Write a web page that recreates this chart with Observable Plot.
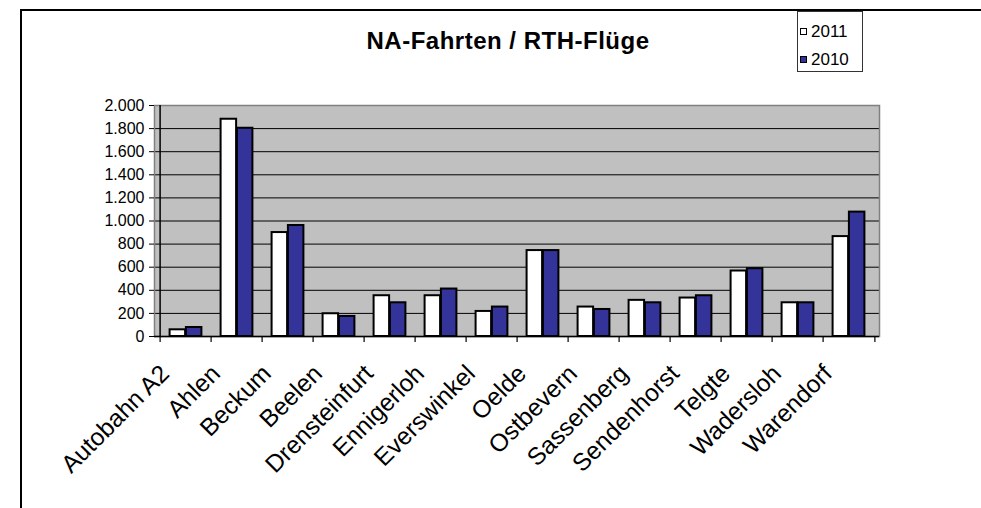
<!DOCTYPE html>
<html>
<head>
<meta charset="utf-8">
<script src="https://cdn.jsdelivr.net/npm/d3@7"></script>
<script src="https://cdn.jsdelivr.net/npm/@observablehq/plot@0.6"></script>
<style>
  body { margin: 0; background: #fff; font-family: "Liberation Sans", Arial, sans-serif; }
  #wrap { position: relative; width: 981px; height: 508px; overflow: hidden; background: #fff; }
  #border { position: absolute; left: 20px; top: 9px; width: 1100px; height: 700px;
            border-top: 2px solid #000; border-left: 2px solid #000; pointer-events: none; }
  #title { position: absolute; left: 508px; top: 29px; transform: translateX(-50%);
           font-weight: bold; font-size: 24px; letter-spacing: 0.5px; line-height: 24px; white-space: nowrap; color: #000; }
  #legend { position: absolute; left: 797px; top: 11px; width: 66px; height: 61px;
            border: 1px solid #333; background: #fff; box-sizing: border-box; }
  .item { position: absolute; left: 2px; font-size: 17px; line-height: 17px; white-space: nowrap; }
  .sw { display: inline-block; width: 5px; height: 5px; border: 1.5px solid #000; margin-right: 4px; vertical-align: 2px; }
  #chart { position: absolute; left: 0; top: 0; }
</style>
</head>
<body>
<div id="wrap">
  <div id="chart"></div>
  <div id="title"></div>
  <div id="legend"></div>
  <div id="border"></div>
</div>
<script>
const title = "NA-Fahrten / RTH-Flüge";
const categories = ["Autobahn A2", "Ahlen", "Beckum", "Beelen", "Drensteinfurt", "Ennigerloh",
  "Everswinkel", "Oelde", "Ostbevern", "Sassenberg", "Sendenhorst", "Telgte", "Wadersloh", "Warendorf"];
const series = ["2011", "2010"];
const values2011 = [58, 1881, 900, 197, 353, 353, 217, 744, 255, 313, 333, 567, 292, 865];
const values2010 = [78, 1803, 961, 174, 292, 411, 255, 744, 234, 292, 353, 587, 292, 1077];
const seriesColors = ["#ffffff", "#333399"];
const yTicks = [0, 200, 400, 600, 800, 1000, 1200, 1400, 1600, 1800, 2000];

const data = categories.flatMap((c, i) => [
  {cat: c, series: series[0], value: values2011[i]},
  {cat: c, series: series[1], value: values2010[i]}
]);

const W = 981, H = 508, mL = 154, mR = 102, mT = 105, mB = 172;
const bw = (W - mL - mR) / categories.length;
const barW = 16.3;
const fmt = d3.formatLocale({decimal: ",", thousands: ".", grouping: [3], currency: ["", " €"]}).format(",");

const chart = Plot.plot({
  width: W, height: H,
  marginLeft: mL, marginRight: mR, marginTop: mT, marginBottom: mB,
  style: {fontFamily: '"Liberation Sans", Arial, sans-serif', fontSize: "15px", color: "#000", background: "transparent", overflow: "visible"},
  x: {type: "band", domain: categories, padding: 0, axis: null},
  y: {domain: [0, 2000], axis: null},
  marks: [
    Plot.frame({fill: "#c0c0c0", stroke: "none"}),
    Plot.ruleY(yTicks.slice(1, -1), {stroke: "#000", strokeWidth: 1}),
    Plot.frame({stroke: "#808080", strokeWidth: 1.5}),
    Plot.barY(data.filter(d => d.series === series[0]), {x: "cat", y: "value", fill: seriesColors[0], stroke: "#000", strokeWidth: 2, insetLeft: bw / 2 - barW, insetRight: bw / 2}),
    Plot.barY(data.filter(d => d.series === series[1]), {x: "cat", y: "value", fill: seriesColors[1], stroke: "#000", strokeWidth: 2, insetLeft: bw / 2, insetRight: bw / 2 - barW}),
    Plot.ruleY([0], {stroke: "#000", strokeWidth: 1.5}),
    Plot.ruleX([categories[0]], {dx: -bw / 2, stroke: "#000", strokeWidth: 1.5}),
    Plot.ruleX(categories, {y1: 0, y2: 0, insetBottom: -6, dx: -bw / 2, stroke: "#000", strokeWidth: 1.2}),
    Plot.ruleX([categories[categories.length - 1]], {y1: 0, y2: 0, insetBottom: -6, dx: bw / 2, stroke: "#000", strokeWidth: 1.2}),
    Plot.axisY({ticks: yTicks, tickSize: 5, tickPadding: 5, tickFormat: fmt, fontSize: 16, label: null}),
    Plot.axisX({tickSize: 0, tickPadding: 0, tickRotate: -45, dx: -21, dy: 33, fontSize: 24.5, label: null})
  ]
});
document.getElementById("chart").appendChild(chart);
document.getElementById("title").textContent = title;

const legend = document.getElementById("legend");
series.forEach((s, i) => {
  const it = document.createElement("div");
  it.className = "item";
  it.style.top = (i === 0 ? 11 : 39) + "px";
  const sw = document.createElement("span");
  sw.className = "sw";
  sw.style.background = seriesColors[i];
  it.appendChild(sw);
  it.appendChild(document.createTextNode(s));
  legend.appendChild(it);
});
</script>
</body>
</html>
